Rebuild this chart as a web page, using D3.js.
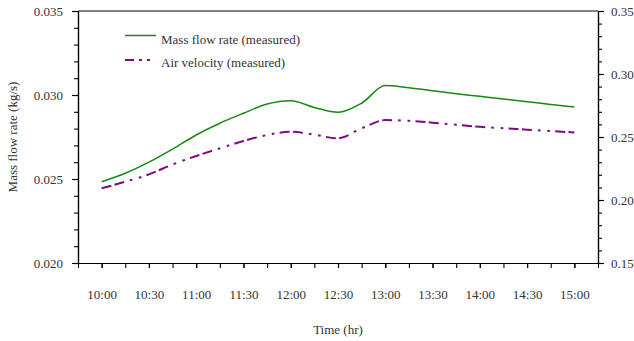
<!DOCTYPE html>
<html>
<head>
<meta charset="utf-8">
<script src="https://cdn.jsdelivr.net/npm/d3@7"></script>
<style>
  body { margin: 0; background: #fff; }
  svg { display: block; font-family: "Liberation Serif", "Times New Roman", serif; }
  svg text { font-family: "Liberation Serif", "Times New Roman", serif; }
</style>
</head>
<body>
<svg id="chart" width="634" height="341"></svg>
<script>
// Measurement times (every 15 minutes)
const times = ["10:00","10:15","10:30","10:45","11:00","11:15","11:30","11:45","12:00","12:15","12:30",
               "12:45","13:00","13:15","13:30","13:45","14:00","14:15","14:30","14:45","15:00"];
// Mass flow rate, kg/s (left axis)
const massFlow = [0.02484,0.02534,0.02600,0.02678,0.02762,0.02832,0.02891,0.02946,0.02966,0.02926,0.02897,
                  0.02951,0.03056,0.03043,0.03026,0.03008,0.02992,0.02976,0.02960,0.02944,0.02928];
// Air velocity, m/s (right axis)
const airVelocity = [0.2093,0.2145,0.2203,0.2282,0.2349,0.2410,0.2468,0.2516,0.2542,0.2518,0.2490,
                     0.2569,0.2634,0.2628,0.2614,0.2597,0.2581,0.2570,0.2558,0.2547,0.2536];
// Axis ticks
const timeLabels = ["10:00","10:30","11:00","11:30","12:00","12:30","13:00","13:30","14:00","14:30","15:00"];
const leftTicks = [0.020, 0.025, 0.030, 0.035];
const rightTicks = [0.15, 0.20, 0.25, 0.30, 0.35];
const seriesNames = ["Mass flow rate (measured)", "Air velocity (measured)"];

const toMin = s => { const [h, m] = s.split(":").map(Number); return h * 60 + m; };
const fmtTime = v => `${Math.floor(v / 60)}:${String(v % 60).padStart(2, "0")}`;

const svg = d3.select("#chart");
const L = 78, R = 598, T = 11, B = 263;
const textColor = "#333";
const serif = '"Liberation Serif", "Times New Roman", serif';

const x = d3.scaleLinear().domain([toMin("9:45"), toMin("15:15")]).range([L, R]);
const yL = d3.scaleLinear().domain([0.020, 0.035]).range([B, T]);
const yR = d3.scaleLinear().domain([0.15, 0.35]).range([B, T]);

function styleAxis(g) {
  g.attr("font-family", serif).attr("font-size", 13);
  g.selectAll("path.domain").attr("stroke", "#000").attr("stroke-width", 1.2);
  g.selectAll(".tick line").attr("stroke", "#000").attr("stroke-width", 1.1);
  g.selectAll(".tick text").attr("fill", textColor);
}

// minor ticks
const minorX = d3.range(toMin("9:45"), toMin("15:15") + 1, 15);
const minorL = d3.range(20, 36).map(v => v / 1000);
const minorR = d3.range(15, 36).map(v => v / 100);

svg.append("g").attr("transform", `translate(0,${B})`)
  .call(d3.axisBottom(x).tickValues(minorX).tickFormat("").tickSize(5).tickSizeOuter(0)).call(styleAxis);
svg.append("g").attr("transform", `translate(0,${B})`)
  .call(d3.axisBottom(x).tickValues(timeLabels.map(toMin)).tickFormat(fmtTime).tickSize(5).tickPadding(22).tickSizeOuter(0))
  .call(styleAxis);

svg.append("g").attr("transform", `translate(${L},0)`)
  .call(d3.axisLeft(yL).tickValues(minorL).tickFormat("").tickSize(4).tickSizeOuter(0)).call(styleAxis);
svg.append("g").attr("transform", `translate(${L},0)`)
  .call(d3.axisLeft(yL).tickValues(leftTicks).tickFormat(d3.format(".3f")).tickSize(6).tickPadding(9).tickSizeOuter(0))
  .call(styleAxis);

svg.append("g").attr("transform", `translate(${R},0)`)
  .call(d3.axisRight(yR).tickValues(minorR).tickFormat("").tickSize(4).tickSizeOuter(0)).call(styleAxis);
svg.append("g").attr("transform", `translate(${R},0)`)
  .call(d3.axisRight(yR).tickValues(rightTicks).tickFormat(d3.format(".2f")).tickSize(6).tickPadding(7).tickSizeOuter(0))
  .call(styleAxis);

// top frame line
svg.append("line").attr("x1", L).attr("x2", R).attr("y1", T).attr("y2", T)
  .attr("stroke", "#000").attr("stroke-width", 1.2);

// axis titles
svg.append("text").attr("x", (L + R) / 2).attr("y", 334).attr("text-anchor", "middle")
  .attr("font-size", 13).attr("fill", textColor).text("Time (hr)");
svg.append("text").attr("transform", `translate(17,${(T + B) / 2}) rotate(-90)`).attr("text-anchor", "middle")
  .attr("font-size", 13).attr("fill", textColor).text("Mass flow rate (kg/s)");

// series
const green = "#138a13", purple = "#7d0a80";
const massData = times.map((t, i) => [toMin(t), massFlow[i]]);
const velData = times.map((t, i) => [toMin(t), airVelocity[i]]);

svg.append("path").datum(massData)
  .attr("d", d3.line().x(d => x(d[0])).y(d => yL(d[1])).curve(d3.curveMonotoneX))
  .attr("fill", "none").attr("stroke", green).attr("stroke-width", 1.5);

svg.append("path").datum(velData)
  .attr("d", d3.line().x(d => x(d[0])).y(d => yR(d[1])).curve(d3.curveMonotoneX))
  .attr("fill", "none").attr("stroke", purple).attr("stroke-width", 2)
  .attr("stroke-dasharray", "10,3.3,10,6,2.7,6.7,2.7,5.3");

// legend
const lg = svg.append("g");
lg.append("line").attr("x1", 125).attr("x2", 156).attr("y1", 35.5).attr("y2", 35.5)
  .attr("stroke", green).attr("stroke-width", 1.5);
lg.append("text").attr("x", 161).attr("y", 43.5).attr("font-size", 13).attr("fill", textColor).text(seriesNames[0]);
lg.append("line").attr("x1", 125).attr("x2", 152).attr("y1", 60).attr("y2", 60)
  .attr("stroke", purple).attr("stroke-width", 2.2).attr("stroke-dasharray", "9,5,3,5,3,20");
lg.append("text").attr("x", 161).attr("y", 67).attr("font-size", 13).attr("fill", textColor).text(seriesNames[1]);
</script>
</body>
</html>
